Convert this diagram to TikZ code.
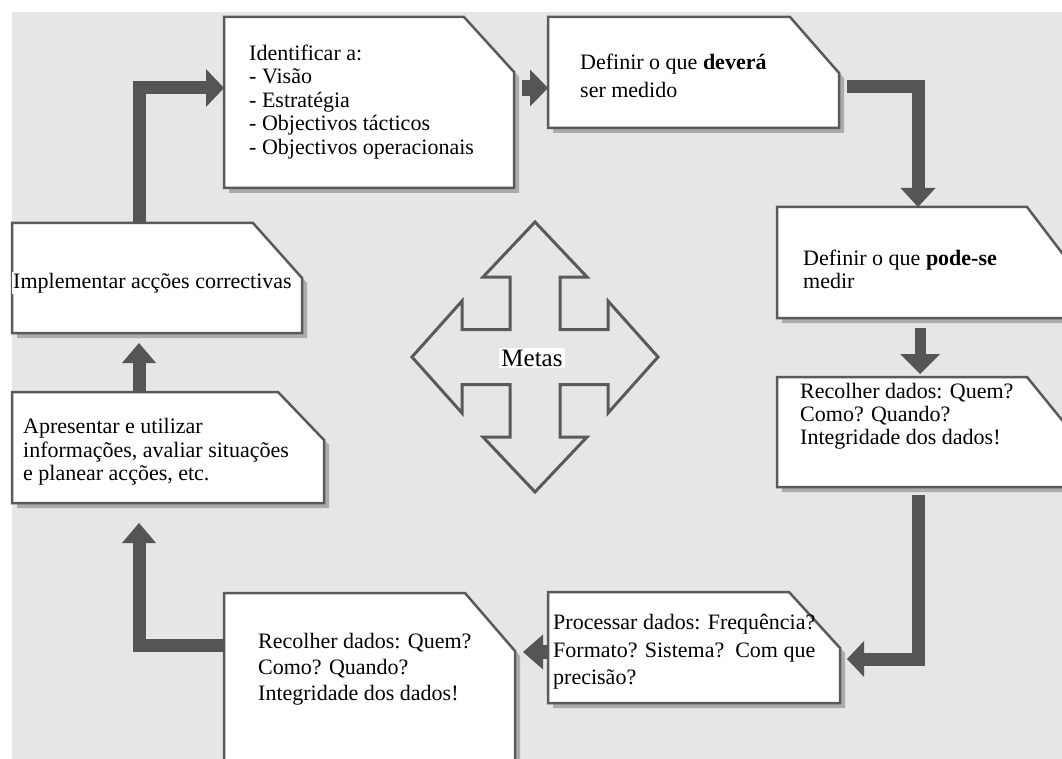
\documentclass[tikz,border=0pt]{standalone}
\usepackage{fontspec}
\setmainfont{Liberation Serif}
\usetikzlibrary{arrows.meta}
\definecolor{bgc}{RGB}{230,230,230}
\definecolor{bord}{RGB}{90,90,90}
\definecolor{arr}{RGB}{85,85,85}
\definecolor{shad}{RGB}{172,172,172}
\newcommand\boxpath[4]{([shift={(#4,#4)}]#1.north west) -- ([shift={(#4-#2,#4)}]#1.north east) -- ([shift={(#4,#4+#3)}]#1.north east) -- ([shift={(#4,#4)}]#1.south east) -- ([shift={(#4,#4)}]#1.south west) -- cycle}
\newcommand\drawcutbox[3]{%
  \fill[shad] \boxpath{#1}{#2}{#3}{5};
  \filldraw[fill=white, draw=bord, line width=2.5pt] \boxpath{#1}{#2}{#3}{0};
}
\tikzset{
  boxnode/.style={rectangle, draw=none, inner sep=0pt, outer sep=0pt, anchor=north west},
  txt/.style={anchor=west, align=left, inner sep=0pt, font=\fontsize{22}{#1}\selectfont, text=black},
  txt/.default=23.5,
  conn/.style={draw=arr, line width=13pt},
}
\begin{document}
\begin{tikzpicture}[x=1pt,y=-1pt]
\useasboundingbox (0,0) rectangle (1062,759);
\clip (0,0) rectangle (1062,759);
\fill[white] (0,0) rectangle (1062,759);
\fill[bgc] (12,12) rectangle (1062,759);

% boxes
\node[boxnode, minimum width=290pt, minimum height=171pt] (b1) at (224,17) {};
\drawcutbox{b1}{50}{55}
\node[txt] (t1) at (249,102) {Identificar a:\\- Visão\\- Estratégia\\- Objectivos tácticos\\- Objectivos operacionais};

\node[boxnode, minimum width=291pt, minimum height=111pt] (b2) at (548,17) {};
\drawcutbox{b2}{49}{56}
\node[txt=28] (t2) at (580,76) {Definir o que \textbf{deverá}\\ser medido};

\node[boxnode, minimum width=298pt, minimum height=111pt] (b3) at (777,207) {};
\drawcutbox{b3}{48}{63}
\node[txt=23] (t3) at (803,269) {Definir o que \textbf{pode-se}\\medir};

\node[boxnode, minimum width=298pt, minimum height=110pt] (b4) at (777,377) {};
\drawcutbox{b4}{48}{59}
\node[txt=23] (t4) at (800,416) {Recolher dados: Quem?\\Como? Quando?\\Integridade dos dados!};

\node[boxnode, minimum width=292pt, minimum height=111pt] (b5) at (548,592) {};
\drawcutbox{b5}{51}{56}
\node[txt=27.5] (t5) at (553,652) {Processar dados: Frequência?\\Formato? Sistema?~~Com que\\precisão?};

\node[boxnode, minimum width=291pt, minimum height=175pt] (b6) at (224,593) {};
\drawcutbox{b6}{50}{58}
\node[txt=26] (t6) at (258,669) {Recolher dados: Quem?\\Como? Quando?\\Integridade dos dados!};

\node[boxnode, minimum width=312pt, minimum height=111pt] (b7) at (12,392) {};
\drawcutbox{b7}{46}{48}
\node[txt] (t7) at (23,452) {Apresentar e utilizar\\informações, avaliar situações\\e planear acções, etc.};

\node[boxnode, minimum width=290pt, minimum height=110pt] (b8) at (12,223) {};
\drawcutbox{b8}{49}{55}
\node[txt, fill=white, inner sep=1pt] (t8) at (12,283) {Implementar acções correctivas};

% central cross
\begin{scope}[shift={(535,357)}]
\draw[bord, line width=3pt, line join=miter]
  (0,-135) -- (52,-80) -- (25,-80) -- (25,-27.5) -- (73,-27.5) -- (73,-56) -- (123,0)
  -- (73,56) -- (73,27.5) -- (25,27.5) -- (25,80) -- (52,80) -- (0,135)
  -- (-52,80) -- (-25,80) -- (-25,27.5) -- (-73,27.5) -- (-73,56) -- (-123,0)
  -- (-73,-56) -- (-73,-27.5) -- (-25,-27.5) -- (-25,-80) -- (-52,-80) -- cycle;
\end{scope}
\node[fill=white, inner sep=2pt, font=\fontsize{25}{27}\selectfont] (m) at (532,358) {Metas};

% connectors
\draw[conn, line width=16pt, -{Triangle[length=18pt,width=37pt,line width=0pt]}]
  ([shift={(8,71)}]b1.north east) -- ([shift={(0,71)}]b2.north west);
\draw[conn, -{Triangle[length=19pt,width=35pt,line width=0pt]}]
  ([shift={(8,70)}]b2.north east) -| ([shift={(141,0)}]b3.north west);
\draw[conn, line width=11pt, -{Triangle[length=20pt,width=40pt,line width=0pt]}]
  ([shift={(143,10)}]b3.south west) -- ([shift={(143,-3)}]b4.north west);
\draw[conn, -{Triangle[length=17pt,width=36pt,line width=0pt]}]
  ([shift={(141,8)}]b4.south west) |- ([shift={(7,67)}]b5.north east);
\draw[conn, line width=14pt, -{Triangle[length=20pt,width=35pt,line width=0pt]}]
  ([shift={(0,60)}]b5.north west) -- ([shift={(8,59)}]b6.north east);
\draw[conn, -{Triangle[length=20pt,width=34pt,line width=0pt]}]
  ([shift={(0,52)}]b6.north west) -| ([shift={(127,20)}]b7.south west);
\draw[conn, -{Triangle[length=20pt,width=34pt,line width=0pt]}]
  ([shift={(127,0)}]b7.north west) -- ([shift={(127,10)}]b8.south west);
\draw[conn, -{Triangle[length=18pt,width=38pt,line width=0pt]}]
  ([shift={(127,0)}]b8.north west) |- ([shift={(0,71)}]b1.north west);
\end{tikzpicture}
\end{document}
